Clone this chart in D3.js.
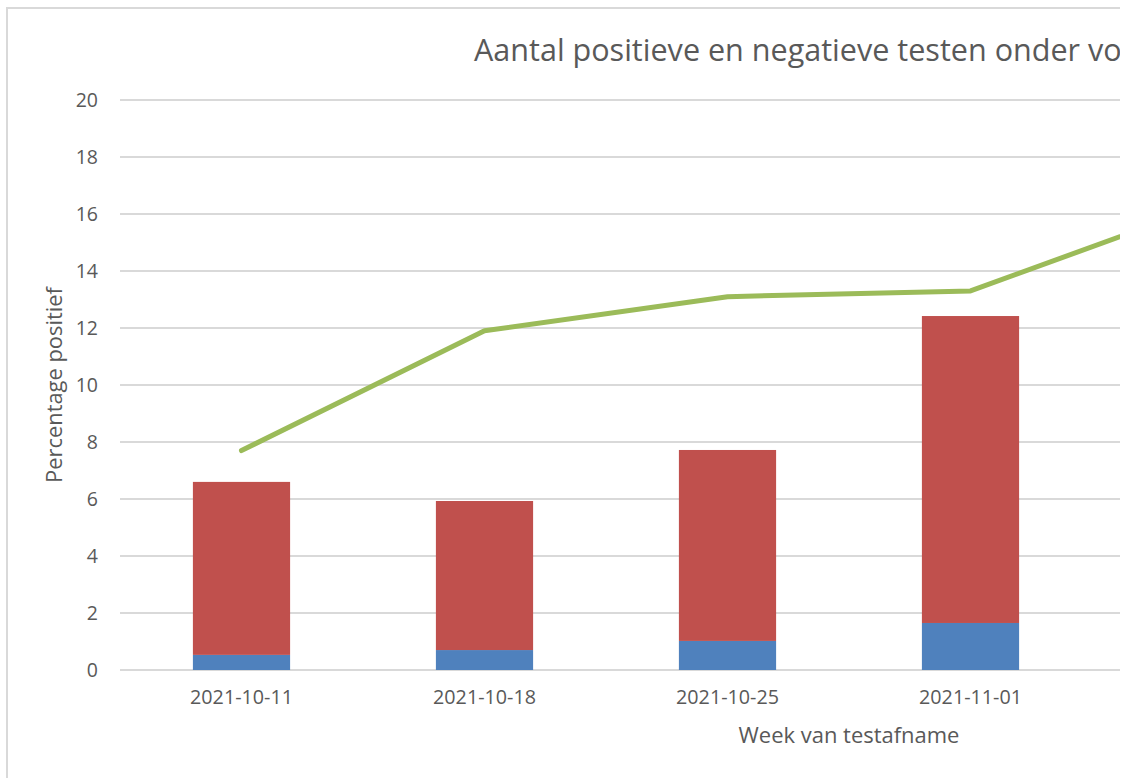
<!DOCTYPE html>
<html>
<head>
<meta charset="utf-8">
<script src="https://cdn.jsdelivr.net/npm/d3@7"></script>
<style>
  body { margin: 0; background: #fff; }
  text { font-family: "Open Sans", sans-serif; fill: #595959; }
</style>
</head>
<body>
<div id="chart"></div>
<script>
// weeks of test (5th week runs past the visible edge)
const weeks = ["2021-10-11", "2021-10-18", "2021-10-25", "2021-11-01", "2021-11-08"];
const positief = [0.53, 0.70, 1.02, 1.65];
const negatief = [6.07, 5.23, 6.70, 10.77];
const percentage = [7.7, 11.9, 13.1, 13.3, 16.4];
const yTicks = [0, 2, 4, 6, 8, 10, 12, 14, 16, 18, 20];

// shrink/grow a text so it takes the given width
function fitText(sel, target) {
    sel.each(function() {
        const size = parseFloat(d3.select(this).style("font-size"));
        const w = this.getComputedTextLength();
        d3.select(this).style("font-size", (size * target / w) + "px");
    });
}

function main() {
    const width = 1128, height = 778;
    const margin = {top: 100, left: 120, bottom: 108};
    const step = 243;

    const svg = d3.select("#chart")
        .append("svg")
        .attr("width", width)
        .attr("height", height);

    svg.append("clipPath").attr("id", "cut")
        .append("rect").attr("x", 0).attr("y", 0).attr("width", 1120).attr("height", height);

    const g = svg.append("g").attr("clip-path", "url(#cut)");

    // chart border
    g.append("rect")
        .attr("x", 7).attr("y", 8)
        .attr("width", 1400).attr("height", 900)
        .attr("fill", "#fff")
        .attr("stroke", "#d9d9d9")
        .attr("stroke-width", 2);

    const xScale = d3.scaleBand()
        .domain(weeks)
        .range([margin.left, margin.left + step * weeks.length])
        .paddingInner(0.6)
        .paddingOuter(0.3);

    const yScale = d3.scaleLinear()
        .domain([0, 20])
        .range([height - margin.bottom, margin.top]);

    // gridlines
    g.append("g")
        .selectAll("line")
        .data(yTicks)
        .enter()
        .append("line")
        .attr("x1", margin.left)
        .attr("x2", margin.left + step * weeks.length)
        .attr("y1", d => yScale(d))
        .attr("y2", d => yScale(d))
        .attr("stroke", "#d9d9d9")
        .attr("stroke-width", 2);

    // y axis labels
    const yAxis = g.append("g")
        .attr("transform", `translate(${margin.left - 8}, 0)`)
        .call(d3.axisLeft(yScale).tickValues(yTicks).tickSize(0).tickPadding(14));
    yAxis.select(".domain").remove();
    yAxis.selectAll("text").style("font-size", "19.5px").attr("fill", "#595959");

    // x axis labels (last week label lies past the edge)
    const xAxis = g.append("g")
        .attr("transform", `translate(0, ${yScale(0)})`)
        .call(d3.axisBottom(xScale).tickValues(weeks.slice(0, 4)).tickSize(0).tickPadding(20));
    xAxis.select(".domain").remove();
    xAxis.selectAll("text").style("font-size", "19px").attr("fill", "#595959");
    fitText(xAxis.selectAll("text"), 103);

    // stacked bars
    const bars = g.append("g");
    positief.forEach(function(p, i) {
        const x = xScale(weeks[i]);
        bars.append("rect")
            .attr("x", x).attr("width", xScale.bandwidth())
            .attr("y", yScale(p)).attr("height", yScale(0) - yScale(p))
            .attr("fill", "#4f81bd");
        bars.append("rect")
            .attr("x", x).attr("width", xScale.bandwidth())
            .attr("y", yScale(p + negatief[i])).attr("height", yScale(p) - yScale(p + negatief[i]))
            .attr("fill", "#c0504d");
    });

    // percentage line
    const line = d3.line()
        .x((d, i) => xScale(weeks[i]) + xScale.bandwidth() / 2)
        .y(d => yScale(d));
    g.append("path")
        .datum(percentage)
        .attr("d", line)
        .attr("fill", "none")
        .attr("stroke", "#9bbb59")
        .attr("stroke-width", 5)
        .attr("stroke-linecap", "round")
        .attr("stroke-linejoin", "round");

    // title and axis titles
    const title = g.append("text")
        .attr("x", 474).attr("y", 61)
        .style("font-size", "28px")
        .text("Aantal positieve en negatieve testen onder vo");
    fitText(title, 648);

    const yTitle = g.append("text")
        .attr("transform", `translate(62, ${yScale(10)}) rotate(-90)`)
        .attr("text-anchor", "middle")
        .style("font-size", "19px")
        .text("Percentage positief");
    fitText(yTitle, 196);

    const xTitle = g.append("text")
        .attr("x", 849).attr("y", 743)
        .attr("text-anchor", "middle")
        .style("font-size", "19px")
        .text("Week van testafname");
    fitText(xTitle, 221);
}

main();
</script>
</body>
</html>
